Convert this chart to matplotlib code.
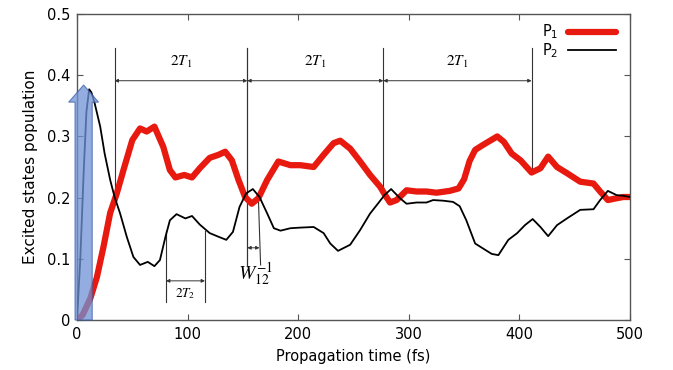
import numpy as np
from matplotlib import pyplot as plt
from matplotlib.patches import FancyArrow

# population data
t_p1 = [0, 5, 12, 18, 24, 30, 36, 42, 50, 57, 63, 70, 78, 84, 89, 97, 104, 111, 120, 128,
        134, 140, 146, 152, 158, 164, 172, 182, 193, 202, 214, 223, 232, 238, 247, 256, 265,
        274, 279, 283, 289, 298, 307, 316, 325, 337, 345, 350, 355, 360, 367, 380, 386, 393,
        401, 411, 419, 426, 434, 443, 455, 467, 473, 480, 488, 494, 500]
p1 = [0, 0.008, 0.035, 0.07, 0.12, 0.175, 0.207, 0.245, 0.294, 0.313, 0.308, 0.316, 0.283,
      0.245, 0.233, 0.237, 0.233, 0.248, 0.265, 0.27, 0.275, 0.261, 0.229, 0.201, 0.19, 0.199,
      0.229, 0.259, 0.253, 0.253, 0.25, 0.27, 0.289, 0.293, 0.28, 0.259, 0.237, 0.218, 0.203,
      0.192, 0.196, 0.212, 0.21, 0.21, 0.208, 0.211, 0.215, 0.23, 0.26, 0.278, 0.286, 0.3,
      0.291, 0.272, 0.261, 0.241, 0.248, 0.267, 0.25, 0.24, 0.226, 0.223, 0.21, 0.196, 0.199,
      0.201, 0.201]

t_p2 = [0, 3, 6, 8.5, 11, 13, 16, 21, 25, 30, 34, 39, 45, 51, 57, 64, 70, 75, 80, 84, 90, 98,
        104, 111, 120, 128, 135, 141, 147, 153, 159, 165, 172, 178, 184, 193, 202, 214, 223,
        229, 236, 247, 256, 265, 272, 278, 284, 292, 298, 307, 316, 322, 331, 340, 346, 352,
        360, 367, 375, 381, 390, 398, 405, 412, 419, 426, 434, 443, 455, 467, 473, 480, 488,
        494, 500]
p2 = [0, 0.1, 0.24, 0.34, 0.377, 0.372, 0.354, 0.316, 0.272, 0.229, 0.201, 0.174, 0.136,
      0.103, 0.09, 0.095, 0.088, 0.098, 0.136, 0.163, 0.173, 0.166, 0.17, 0.156, 0.142, 0.136,
      0.131, 0.144, 0.185, 0.207, 0.214, 0.201, 0.174, 0.15, 0.146, 0.15, 0.151, 0.152, 0.142,
      0.125, 0.113, 0.123, 0.147, 0.174, 0.19, 0.204, 0.214, 0.199, 0.19, 0.192, 0.192, 0.196,
      0.195, 0.193, 0.186, 0.163, 0.125, 0.117, 0.108, 0.106, 0.131, 0.142, 0.155, 0.165,
      0.152, 0.137, 0.155, 0.166, 0.18, 0.181, 0.196, 0.211, 0.204, 0.203, 0.201]

# period markers
t1_marks = [34, 154, 277, 411]
t1_bottoms = [0.2, 0.09, 0.21, 0.243]
t2_marks = [80.5, 115.7]
w12_marks = [154, 166]

fig = plt.figure(figsize=(6.73, 3.70), dpi=100)
ax = fig.add_axes([0.1144, 0.1351, 0.8217, 0.827])

ax.plot(t_p1, p1, color='#e8190f', lw=4.5, solid_joinstyle='round',
        solid_capstyle='round', label='P$_1$', zorder=3)
ax.plot(t_p2, p2, color='black', lw=1.3, label='P$_2$', zorder=4)

# excitation pulse arrow
pulse = FancyArrow(6, 0, 0, 0.384, width=15.5, head_width=27, head_length=0.028,
                   length_includes_head=True, facecolor='#6f92d6', edgecolor='#3a5fa8',
                   lw=0.8, alpha=0.75, zorder=5, clip_on=False)
ax.add_patch(pulse)

# 2T1 markers
lc = '#333333'
for x, yb in zip(t1_marks, t1_bottoms):
    ax.plot([x, x], [yb, 0.444], color=lc, lw=0.8, zorder=2)
for a, b in zip(t1_marks[:-1], t1_marks[1:]):
    ax.annotate('', xy=(b, 0.391), xytext=(a, 0.391),
                arrowprops=dict(arrowstyle='<|-|>', lw=0.7, color=lc,
                                mutation_scale=5, shrinkA=0, shrinkB=0))
    ax.text((a + b) / 2, 0.408, '$2T_1$', ha='center', va='bottom', fontsize=11,
            math_fontfamily='stix')

# 2T2 marker
for x in t2_marks:
    ax.plot([x, x], [0.03, 0.145], color=lc, lw=0.8, zorder=2)
ax.annotate('', xy=(t2_marks[1], 0.064), xytext=(t2_marks[0], 0.064),
            arrowprops=dict(arrowstyle='<|-|>', lw=0.7, color=lc,
                            mutation_scale=5, shrinkA=0, shrinkB=0))
ax.text(np.mean(t2_marks), 0.043, '$2T_2$', ha='center', va='center', fontsize=9.5,
        math_fontfamily='stix')

# W12 marker
ax.plot([w12_marks[0], w12_marks[0]], [0.09, 0.444], color=lc, lw=0.8, zorder=2)
ax.plot([w12_marks[1] - 2, w12_marks[1]], [0.2, 0.09], color=lc, lw=0.8, zorder=2)
ax.annotate('', xy=(w12_marks[1] - 1, 0.118), xytext=(w12_marks[0], 0.118),
            arrowprops=dict(arrowstyle='<|-|>', lw=0.7, color=lc,
                            mutation_scale=5, shrinkA=0, shrinkB=0))
ax.text(161, 0.074, '$W_{12}^{-1}$', ha='center', va='center', fontsize=14,
        math_fontfamily='stix')

ax.set_xlim(0, 500)
ax.set_ylim(0, 0.5)
ax.set_xticks([0, 100, 200, 300, 400, 500])
ax.set_yticks([0, 0.1, 0.2, 0.3, 0.4, 0.5])
ax.set_yticklabels(['0', '0.1', '0.2', '0.3', '0.4', '0.5'])
ax.tick_params(direction='in', top=True, right=True, length=4, width=0.8,
               color='#555555', labelsize=10.5, pad=5)
for s in ax.spines.values():
    s.set_color('#555555')
    s.set_linewidth(1.0)

ax.set_xlabel('Propagation time (fs)', fontsize=10.5, labelpad=5)
ax.set_ylabel('Excited states population', fontsize=11, labelpad=6)

ax.legend(loc='upper right', frameon=False, markerfirst=False, fontsize=10.5,
          handlelength=3.3, handletextpad=0.6, labelspacing=0.0,
          borderaxespad=0.2, bbox_to_anchor=(0.99, 1.0))

plt.savefig('out.png', dpi=100)
